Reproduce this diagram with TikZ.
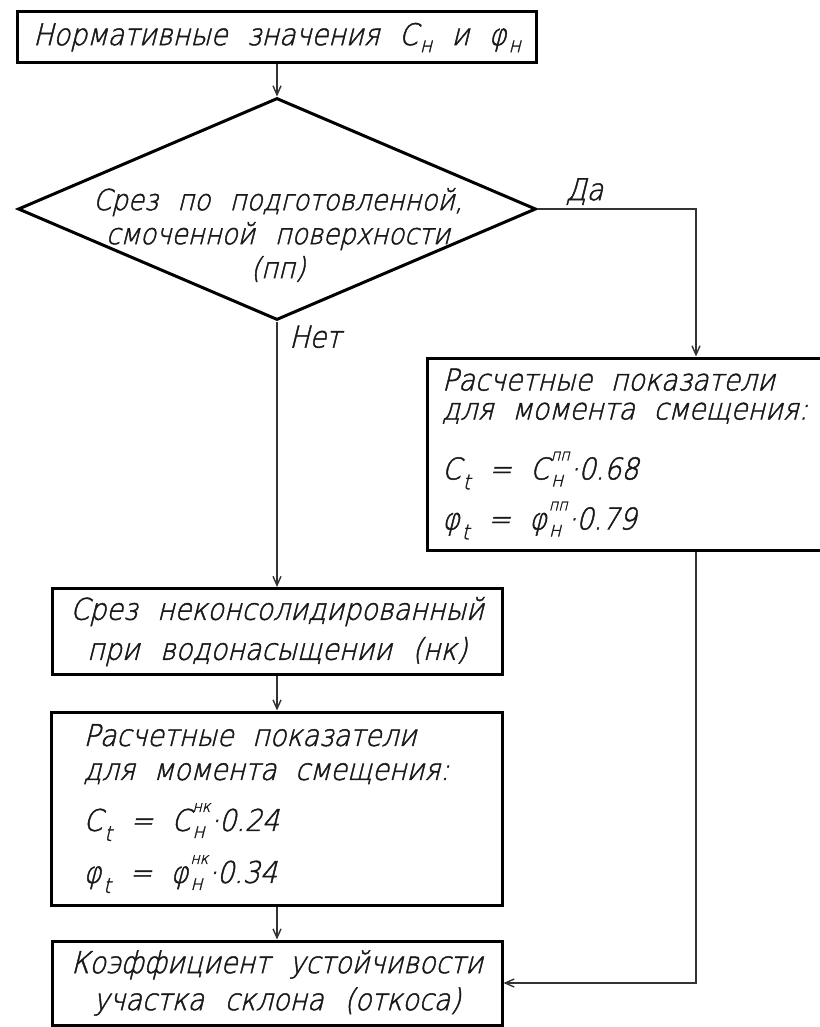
\documentclass[tikz,border=0pt]{standalone}
\usepackage{fontspec}
\setmainfont{DejaVu Sans ExtraLight}[FakeSlant=0.25,FakeStretch=0.9,FakeBold=1.5]
\usepackage{tikz}
\usetikzlibrary{shapes.geometric,arrows.meta,positioning}
\newcommand{\subfont}{\fontsize{21}{21}\selectfont}
\newcommand{\supfont}{\fontsize{16}{16}\selectfont}
\newcommand{\lowidx}[2][7pt]{\kern2pt\raisebox{-#1}{\subfont #2}}
\newcommand{\bothidx}[2]{\kern2pt\rlap{\raisebox{-7pt}{\subfont #1}}\raisebox{19pt}{\supfont #2}}
\tikzset{
    flow-box/.style = {draw=black, line width=3pt, rectangle, inner sep=0pt, text=black!90, align=center,
        execute at begin node={\spaceskip=0.62em plus 0.1em\relax}},
    flow-decision/.style = {draw=black, line width=3pt, diamond, inner sep=0pt, minimum width=518pt, minimum height=222pt},
    flow-arrow/.style = {draw=black!80, line width=1.4pt, -{Straight Barb[length=9pt,width=8pt]}},
    branch-label/.style = {inner sep=0pt, text=black!90,
        execute at begin node={\spaceskip=0.62em plus 0.1em\relax}},
}

\begin{document}
\begin{tikzpicture}[x=1pt, y=-1pt, font=\fontsize{30}{38}\selectfont]
\path[use as bounding box, fill=white] (0,0) rectangle (819,1027);

\node[flow-box, minimum width=519pt, minimum height=51pt, text width=519pt] (norm) at (277,37.5) {Нормативные значения C\lowidx{н} и φ\lowidx{н}};

% decision
\node[flow-decision] (cut) at (277,209) {};
\node[branch-label, text width=420pt, align=center, font=\fontsize{29}{37}\selectfont] (cut-text) at (278,235) {Срез по подготовленной,\\[-3pt] смоченной поверхности\\[-3pt] (пп)};
\node[branch-label, above right=4pt and 28pt] (yes) at (cut.east) {Да};
\node[branch-label, below right=4pt and 12pt] (no) at (cut.south) {Нет};

% right branch
\node[flow-box, minimum width=423pt, minimum height=192pt, text width=393pt, align=left] (pp) at (638.5,454) {Расчетные показатели\\[-9pt] для момента смещения:\\[22pt] C\lowidx[10pt]{t} = C\bothidx{н}{пп}·0.68\\[12pt] φ\lowidx[10pt]{t} = φ\bothidx{н}{пп}·0.79};

% left branch
\node[flow-box, minimum width=450pt, minimum height=86pt, text width=450pt] (nk) at (277,631.5) {Срез неконсолидированный\\[2pt] при водонасыщении (нк)};
\node[flow-box, minimum width=451pt, minimum height=193pt, text width=387pt, align=left] (nk-calc) at (277,808.5) {Расчетные показатели\\[-4pt] для момента смещения:\\[13pt] C\lowidx[10pt]{t} = C\bothidx{н}{нк}·0.24\\[14pt] φ\lowidx[10pt]{t} = φ\bothidx{н}{нк}·0.34};
\node[flow-box, minimum width=450pt, minimum height=84pt, text width=450pt] (coef) at (277,983) {Коэффициент устойчивости\\[-1pt] участка склона (откоса)};

\coordinate (yes-line) at (696,0);
\draw[flow-arrow] (norm) -- (cut);
\draw[flow-arrow] (cut.east) -| (yes-line |- pp.north);
\draw[flow-arrow] (cut.south) -- (nk.north);
\draw[flow-arrow] (nk) -- (nk-calc);
\draw[flow-arrow] (nk-calc) -- (coef);
\draw[flow-arrow] (yes-line |- pp.south) |- (coef.east);
\end{tikzpicture}
\end{document}
